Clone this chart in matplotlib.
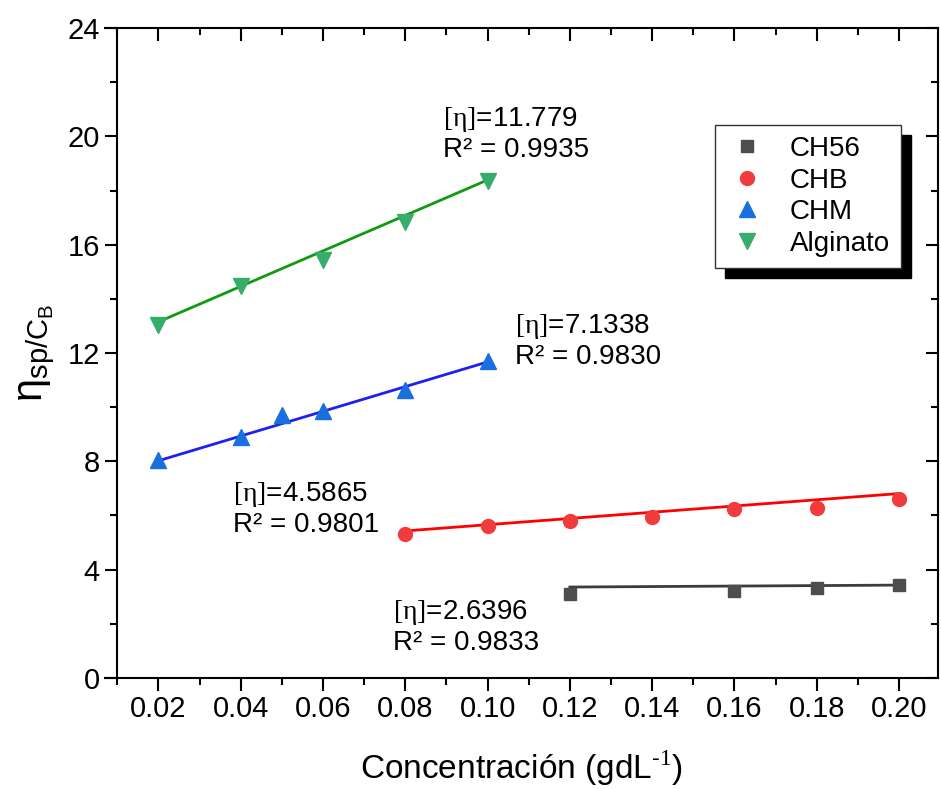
import numpy as np
import matplotlib
matplotlib.use("Agg")
import matplotlib.pyplot as plt
from matplotlib.patches import Rectangle

plt.rcParams['font.family'] = ['Liberation Sans', 'DejaVu Sans']
plt.rcParams['mathtext.fontset'] = 'custom'
plt.rcParams['mathtext.rm'] = 'Liberation Serif'
plt.rcParams['mathtext.sf'] = 'Liberation Sans'
plt.rcParams['mathtext.it'] = 'Liberation Sans:italic'

# datos
series = ['CH56', 'CHB', 'CHM', 'Alginato']

x_ch56 = [0.12, 0.16, 0.18, 0.20]
y_ch56 = [3.10, 3.21, 3.32, 3.43]

x_chb = [0.08, 0.10, 0.12, 0.14, 0.16, 0.18, 0.20]
y_chb = [5.32, 5.61, 5.80, 5.95, 6.24, 6.28, 6.61]

x_chm = [0.02, 0.04, 0.05, 0.06, 0.08, 0.10]
y_chm = [8.05, 8.90, 9.71, 9.86, 10.63, 11.71]

x_alg = [0.02, 0.04, 0.06, 0.08, 0.10]
y_alg = [13.03, 14.48, 15.44, 16.84, 18.35]

# rectas de ajuste (pendiente, ordenada)
fit_ch56 = (0.9, 3.25)
fit_chb = (11.5, 4.51)
fit_chm = (45.6, 7.11)
fit_alg = (65.5, 11.84)

eta_txt = ['2.6396', '4.5865', '7.1338', '11.779']
r2_txt = ['0.9833', '0.9801', '0.9830', '0.9935']

xticks = [0.02, 0.04, 0.06, 0.08, 0.10, 0.12, 0.14, 0.16, 0.18, 0.20]
xtick_lbl = ['0.02', '0.04', '0.06', '0.08', '0.10', '0.12', '0.14', '0.16', '0.18', '0.20']
yticks = [0, 4, 8, 12, 16, 20, 24]

fig = plt.figure(figsize=(9.41, 7.89), dpi=100)
ax = fig.add_axes([0.1116, 0.1407, 0.8852, 0.8238])

puntos = [(x_ch56, y_ch56, fit_ch56, 's', '#4d4d4d', '#3c3c3c', 9),
          (x_chb, y_chb, fit_chb, 'o', '#f03c3c', '#ff0000', 10),
          (x_chm, y_chm, fit_chm, '^', '#1a6fdf', '#1f1ff0', 11),
          (x_alg, y_alg, fit_alg, 'v', '#37ad6b', '#109a10', 11)]

for (xs, ys, fit, mk, col, lcol, ms), nombre in zip(puntos, series):
    xs = np.array(xs)
    ax.plot(xs, ys, linestyle='none', marker=mk, color=col, markersize=ms, label=nombre, zorder=3)
    xl = np.array([xs.min(), xs.max()])
    ax.plot(xl, fit[0] * xl + fit[1], color=lcol, lw=2, zorder=2)

# anotaciones
pos_txt = [(0.0771, 2.95), (0.0382, 7.31), (0.1067, 13.5), (0.0892, 21.16)]
for (tx, ty), e, r in zip(pos_txt, eta_txt, r2_txt):
    ax.text(tx, ty, r'$\mathrm{[η]}$=' + e + '\nR² = ' + r, fontsize=20,
            va='top', ha='left', linespacing=1.15)

ax.set_xlim(0.007, 0.2095)
ax.set_ylim(0, 24)
ax.spines['left'].set_position(('data', 0.01))
ax.spines['top'].set_visible(False)
ax.spines['right'].set_visible(False)
ax.set_xticks(xticks)
ax.set_xticklabels(xtick_lbl)
ax.set_xticks(np.arange(0.01, 0.2095, 0.02), minor=True)
ax.set_yticks(yticks)
ax.set_yticks([2, 6, 10, 14, 18, 22], minor=True)
ax.tick_params(which='both', direction='out', width=1.5, labelsize=21)
ax.tick_params(which='major', length=9)
ax.tick_params(which='minor', length=5)
for s in ax.spines.values():
    s.set_linewidth(1.5)

# ejes superior y derecho con marcas hacia dentro
top = ax.secondary_xaxis('top')
top.set_xticks(xticks)
top.set_xticks(np.arange(0.01, 0.2095, 0.02), minor=True)
top.tick_params(which='both', direction='in', width=1.5, labeltop=False)
top.tick_params(which='major', length=9)
top.tick_params(which='minor', length=5)
top.spines['top'].set_linewidth(1.5)

der = ax.secondary_yaxis('right')
der.set_yticks(yticks)
der.set_yticks([2, 6, 10, 14, 18, 22], minor=True)
der.tick_params(which='both', direction='in', width=1.5, labelright=False)
der.tick_params(which='major', length=9)
der.tick_params(which='minor', length=5)
der.spines['right'].set_linewidth(1.5)

ax.set_xlabel('Concentración (gdL$^{\\mathsf{\u2010}1}$)', fontsize=24, labelpad=18)
ax.set_ylabel(r'$\mathsf{η_{sp/C_B}}$', fontsize=30, labelpad=8)

leg = ax.legend(loc='upper left', bbox_to_anchor=(0.732, 0.851), borderaxespad=0, fontsize=20,
                frameon=True, fancybox=False, edgecolor='#333333', framealpha=1,
                handletextpad=0.8, borderpad=0.4, labelspacing=0.2, handlelength=1.5)
leg.get_frame().set_linewidth(1)

fig.canvas.draw()
bb = leg.get_frame().get_window_extent().transformed(fig.transFigure.inverted())
ox, oy = 10 / 941, 10 / 789
ax.add_patch(Rectangle((bb.x0 + ox, bb.y0 - oy), bb.width, bb.height, transform=fig.transFigure,
                       facecolor='black', edgecolor='black', zorder=4.5, clip_on=False))

fig.savefig('out.png', dpi=100)
